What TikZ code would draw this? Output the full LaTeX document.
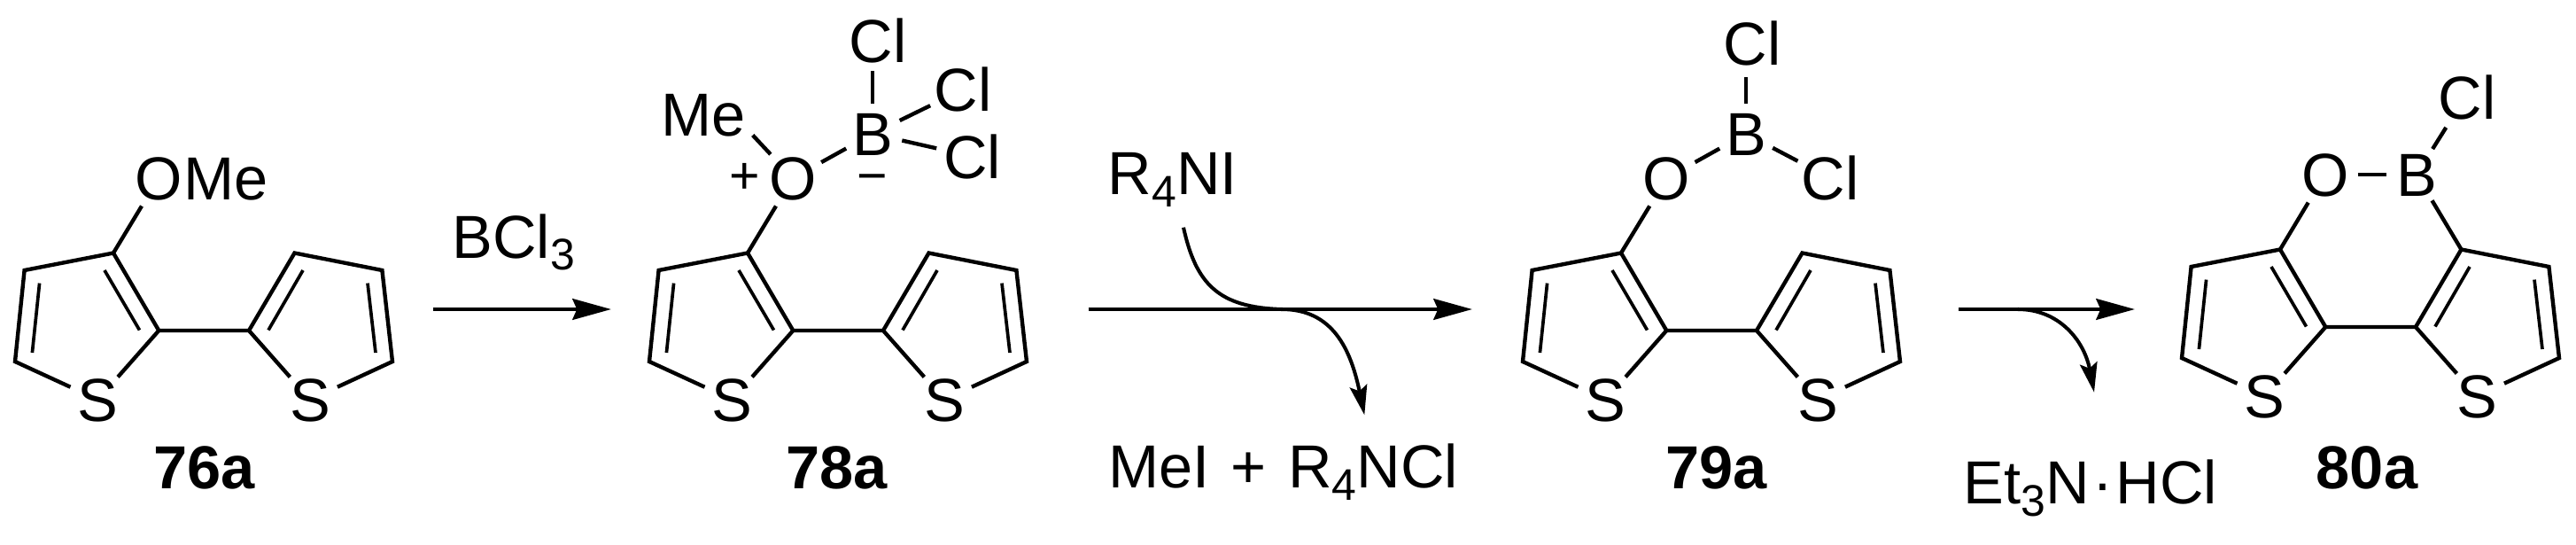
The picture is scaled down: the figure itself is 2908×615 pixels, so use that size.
\documentclass[tikz,border=0pt]{standalone}
\usepackage{fontspec}
\setmainfont{Liberation Sans}
\usetikzlibrary{arrows.meta}
\newcommand{\chemsub}[1]{\raisebox{-3.9pt}{\fontsize{14.2pt}{14.2pt}\selectfont #1}}
\tikzset{
  bond/.style={black,line width=1.25pt,line join=miter},
  innerbond/.style={black,line width=1.05pt},
  atom/.style={circle,inner sep=0pt,text height=13.96pt,text depth=0pt,font=\fontsize{19.5pt}{19.5pt}\selectfont},
  txt/.style={inner sep=0pt,font=\fontsize{19.5pt}{19.5pt}\selectfont},
  charge/.style={inner sep=0pt,font=\fontsize{16.8pt}{16.8pt}\selectfont},
  numlabel/.style={inner sep=0pt,font=\fontsize{19.5pt}{19.5pt}\selectfont\bfseries},
  rxnarrow/.style={black,line width=1.35pt,-{Stealth[length=12.4pt,width=6.7pt,inset=1.4pt]}},
  sidearrow/.style={black,line width=1.15pt,-{Stealth[length=9.5pt,width=5.6pt,inset=1.7pt]}},
  bithio/.pic={
    \coordinate (-c3) at (128,285.5);
    \coordinate (-c4) at (27.6,305);
    \coordinate (-c5) at (17,408);
    \coordinate (-c2) at (179.3,373);
    \coordinate (-d2) at (281,373);
    \coordinate (-d3) at (332.5,285.5);
    \coordinate (-d4) at (431.4,305);
    \coordinate (-d5) at (443,408);
    \node[atom] (-s) at (110.5,451){S};
    \node[atom] (-t) at (350,451){S};
    \coordinate (-i1) at (118,305);
    \coordinate (-i2) at (157.5,372.5);
    \coordinate (-i3) at (44.6,319.6);
    \coordinate (-i4) at (36.4,398);
    \coordinate (-i5) at (303,372.5);
    \coordinate (-i6) at (342,305);
    \coordinate (-i7) at (415,319.6);
    \coordinate (-i8) at (424,398);
    \draw[bond] (-c2) -- (-c3) -- (-c4) -- (-c5) -- (-s);
    \draw[bond] (-s) -- (-c2) -- (-d2) -- (-d3) -- (-d4) -- (-d5) -- (-t);
    \draw[bond] (-t) -- (-d2);
    \draw[innerbond] (-i1) -- (-i2);
    \draw[innerbond] (-i3) -- (-i4);
    \draw[innerbond] (-i5) -- (-i6);
    \draw[innerbond] (-i7) -- (-i8);
  }
}
\begin{document}
\begin{tikzpicture}[x=0.01cm,y=-0.01cm]
\useasboundingbox (0,0) rectangle (2908,615);
% 76a
\pic (m76) at (0,0) {bithio};
\node[atom] (o76) at (179,201){O};
\node[txt,anchor=west,text height=13.96pt,text depth=0pt] (me76) at (206.5,201){Me};
\draw[bond] (m76-c3) -- (o76);
\node[numlabel] (n76) at (230.7,527.5){76a};
% 78a
\pic (m78) at (716,0) {bithio};
\node[atom] (o78) at (895,201){O};
\node[atom] (b78) at (985,151){B};
\node[atom] (me78) at (794.5,129.4){Me};
\node[atom] (cla78) at (991.3,46){Cl};
\node[atom] (clb78) at (1087.3,101){Cl};
\node[atom] (clc78) at (1097.5,176.5){Cl};
\node[charge,anchor=base] (plus78) at (840.6,218.5){+};
\node[charge,anchor=base] (minus78) at (984.5,218.5){−};
\draw[bond] (m78-c3) -- (o78);
\draw[bond] (o78) -- (b78);
\draw[bond,shorten >=1.8pt] (o78) -- (me78.-20);
\draw[bond,shorten >=-2pt] (b78.north) -- (b78.north |- cla78.south);
\draw[bond] (b78) -- (clb78);
\draw[bond] (b78) -- (clc78);
\node[numlabel] (n78) at (944.8,527.5){78a};
% 79a
\pic (m79) at (1702,0) {bithio};
\node[atom] (o79) at (1881.4,201){O};
\node[atom] (b79) at (1971,151){B};
\node[atom] (cla79) at (1978,49){Cl};
\node[atom] (clb79) at (2066,201){Cl};
\draw[bond] (m79-c3) -- (o79);
\draw[bond] (o79) -- (b79);
\draw[bond,shorten >=-1pt] (b79.north) -- (b79.north |- cla79.south);
\draw[bond] (b79) -- (clb79);
\node[numlabel] (n79) at (1937.7,527.5){79a};
% 80a
\pic (m80) at (2446,-4) {bithio};
\node[atom] (o80) at (2624.7,197){O};
\node[atom] (b80) at (2728,197){B};
\node[atom] (cl80) at (2785,110){Cl};
\draw[bond] (m80-c3) -- (o80);
\draw[bond] (o80) -- (b80);
\draw[bond] (b80) -- (m80-d3);
\draw[bond] (b80) -- (cl80.-125);
\node[numlabel] (n80) at (2672,527.5){80a};
% arrows
\coordinate (p1) at (488.6,349);
\coordinate (p2) at (690,349);
\draw[rxnarrow] (p1) -- (p2);
\node[txt,anchor=base west] (bcl) at (510,291){BCl\chemsub{3}};
\coordinate (q1) at (1228.7,349);
\coordinate (q2) at (1662,349);
\coordinate (q3) at (1336,256.7);
\coordinate (q4) at (1447,349);
\coordinate (q5) at (1540.3,468.3);
\draw[rxnarrow] (q1) -- (q2);
\draw[sidearrow,-] (q3) .. controls (1350,320) and (1375,347) .. (q4);
\draw[sidearrow] (q4) .. controls (1505,349) and (1525,395) .. (q5);
\node[txt,anchor=base west] (rni) at (1250,219.3){R\chemsub{4}NI};
\node[txt,anchor=base west] (mei) at (1250.6,550.7){MeI\hspace{1.5pt} + \hspace{1.5pt}R\chemsub{4}NCl};
\coordinate (r1) at (2211,349);
\coordinate (r2) at (2410,349);
\coordinate (r3) at (2278,349);
\coordinate (r4) at (2364,442.7);
\draw[rxnarrow] (r1) -- (r2);
\draw[sidearrow] (r3) .. controls (2325,349) and (2353,385) .. (r4);
\node[txt,anchor=base west] (et) at (2216,568.3){Et\chemsub{3}N\hspace{1pt}·\hspace{1pt}HCl};
\end{tikzpicture}
\end{document}
